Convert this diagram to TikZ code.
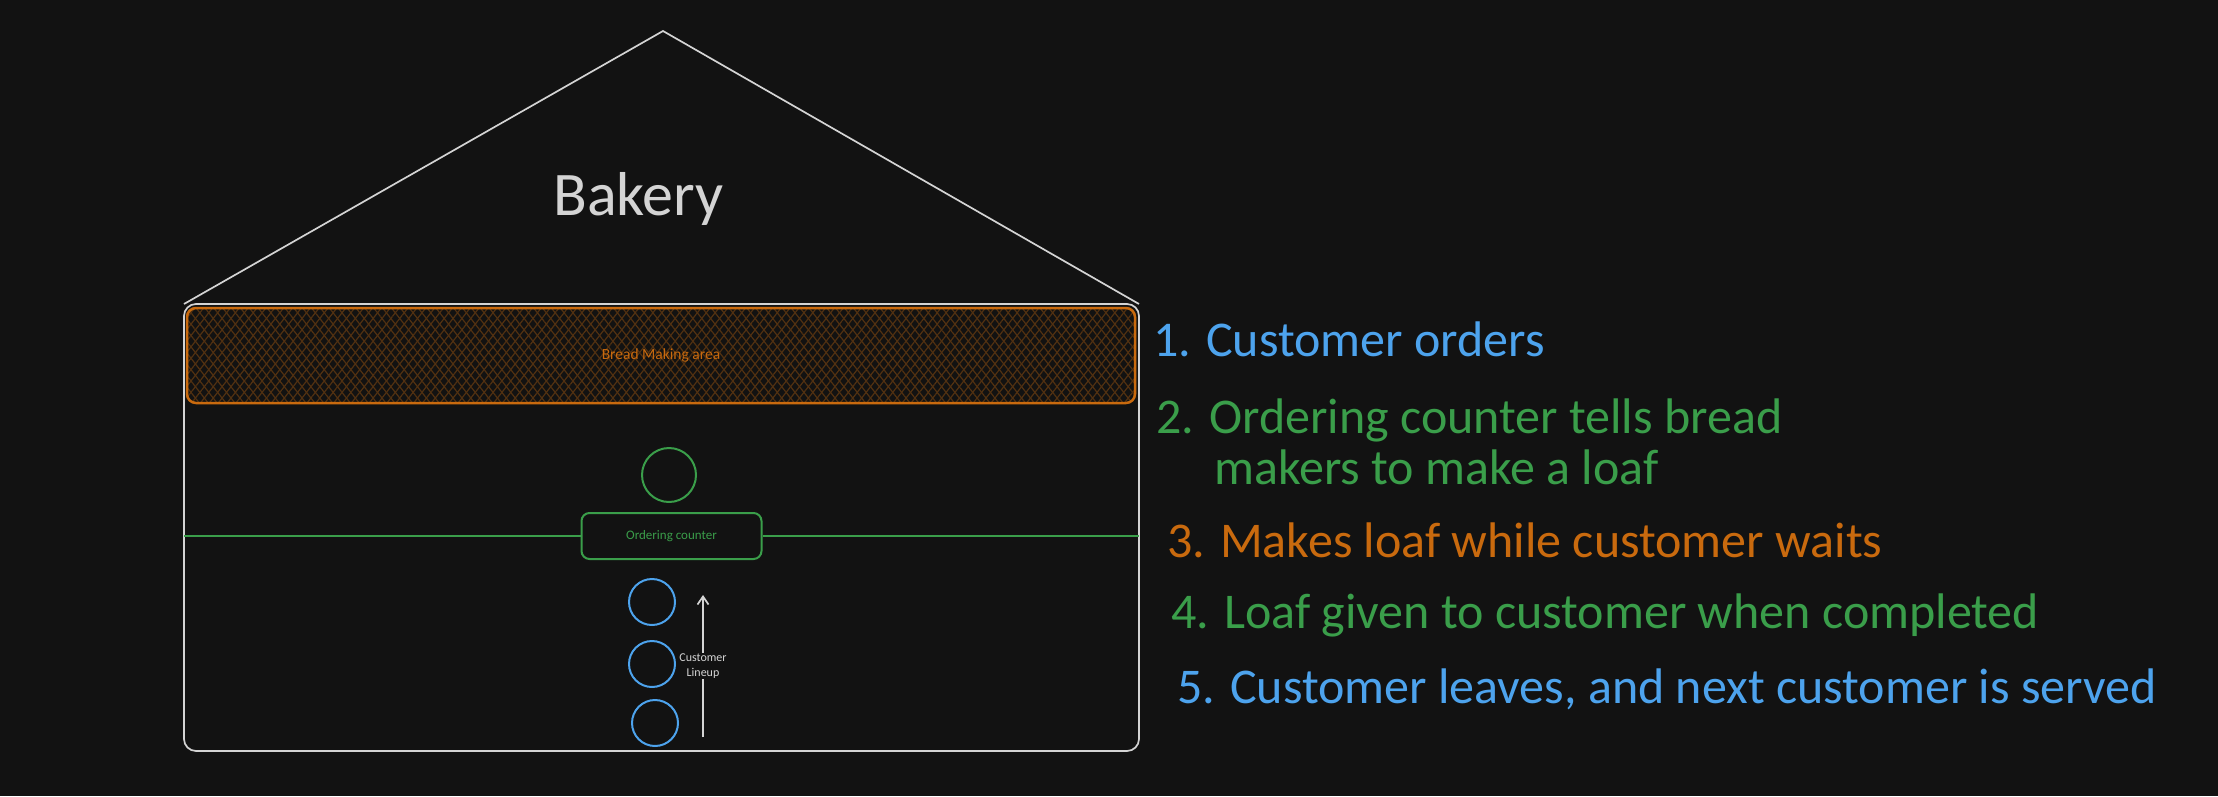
\documentclass[tikz,border=0pt]{standalone}
\usepackage{fontspec}
\setmainfont{Carlito}
\usetikzlibrary{arrows.meta,patterns.meta,positioning}
\definecolor{bg}{HTML}{121212}
\definecolor{chalk}{HTML}{D4D4D4}
\definecolor{ovenorange}{HTML}{C96A0E}
\definecolor{countergreen}{HTML}{3A9E4A}
\definecolor{lineblue}{HTML}{4DA3ED}
\colorlet{hatch}{ovenorange!35!bg}
\tikzset{
    HB/.style ={rectangle, rounded corners=12pt, draw=chalk, line width=1.7pt, inner sep=0pt, outer sep=0pt},
    BA/.style ={rectangle, rounded corners=9pt, draw=ovenorange, line width=2.5pt, minimum width=948pt, minimum height=95pt,
        text=ovenorange, font=\fontsize{15.5}{18}\selectfont,
        preaction={pattern={Lines[angle=52,distance=7pt,line width=1.2pt]}, pattern color=hatch},
        pattern={Lines[angle=128,distance=7pt,line width=1.2pt]}, pattern color=hatch},
    OC/.style ={rectangle, rounded corners=8pt, draw=countergreen, line width=2pt, minimum width=180pt, minimum height=46pt,
        text=countergreen, font=\fontsize{13}{15}\selectfont},
    CC1/.style ={circle, draw=countergreen, line width=2pt, minimum size=54pt, inner sep=0pt},
    CC2/.style ={circle, draw=lineblue, line width=2pt, minimum size=46pt, inner sep=0pt},
    ST/.style ={anchor=base west, inner sep=0pt, font=\fontsize{50}{56}\selectfont}
}

\begin{document}
\begin{tikzpicture}[x=1pt,y=-1pt]
    \fill[bg] (0,0) rectangle (2218,796);
    \useasboundingbox (0,0) rectangle (2218,796);
    % house
    \node[HB, minimum width=955pt, minimum height=447pt] (house) at (661.5,527.5) {};
    \coordinate (apex) at (663,31);
    \draw[chalk, line width=1.7pt] (house.north west) -- (apex) -- (house.north east);
    \node[anchor=base, text=chalk, font=\fontsize{62}{70}\selectfont] (title) at (638.5,215) {Bakery};
    % bread making area
    \node[BA] (oven) at (661,355.5) {Bread Making area};
    % ordering counter
    \node[OC] (counter) at (671.5,536) {Ordering counter};
    \node[CC1] (server) at (669,475) {};
    \draw[countergreen, line width=2pt] (counter.west) -- (counter.west -| house.west);
    \draw[countergreen, line width=2pt] (counter.east) -- (counter.east -| house.east);
    % customer lineup
    \node[CC2] (cust1) at (652,602) {};
    \node[CC2] (cust2) at (652,664) {};
    \node[CC2] (cust3) at (655,723) {};
    \coordinate (linebot) at (703,737);
    \coordinate (linetop) at (703,595);
    \draw[chalk, line width=1.7pt, -{Straight Barb[length=8pt,width=11pt]}] (linebot) --
        node[fill=bg, text=chalk, align=center, inner sep=1pt, font=\fontsize{12}{15}\selectfont] (lineup) {Customer\\Lineup} (linetop);
    % steps
    \node[ST, text=lineblue] (step1) at (1153,356) {1. Customer orders};
    \node[ST, text=countergreen] (step2) at (1156,433) {2. Ordering counter tells bread};
    \node[ST, text=countergreen] (step2b) at (1214,484) {makers to make a loaf};
    \node[ST, text=ovenorange] (step3) at (1167,557) {3. Makes loaf while customer waits};
    \node[ST, text=countergreen] (step4) at (1171,628) {4. Loaf given to customer when completed};
    \node[ST, text=lineblue] (step5) at (1177,703) {5. Customer leaves, and next customer is served};
\end{tikzpicture}
\end{document}
